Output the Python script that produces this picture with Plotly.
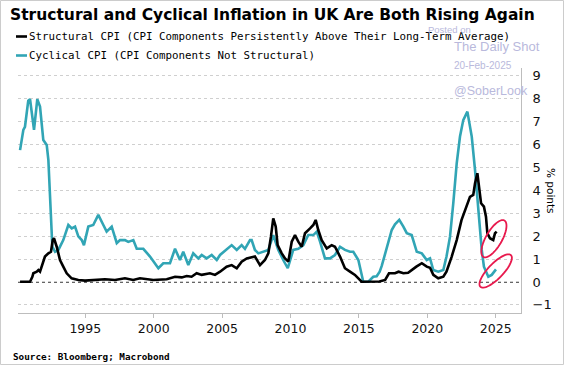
import numpy as np
import plotly.graph_objects as go

# ---------------- data ----------------
struct_x = [1990.23, 1990.96, 1991.13, 1991.20, 1991.45, 1991.57, 1991.69, 1991.81, 1992.05, 1992.30,
            1992.49, 1992.62, 1992.71, 1992.91, 1993.15, 1993.39, 1993.64, 1994.00, 1994.49, 1994.98,
            1995.71, 1996.44, 1997.17, 1997.90, 1998.50, 1999.00, 1999.97, 2000.95, 2001.56, 2002.05,
            2002.41, 2002.77, 2003.14, 2003.51, 2004.11, 2004.48, 2004.85, 2005.33, 2005.70, 2006.07,
            2006.43, 2006.80, 2007.40, 2007.77, 2008.13, 2008.38, 2008.57, 2008.74, 2008.92, 2009.06,
            2009.36, 2009.60, 2009.84, 2010.09, 2010.33, 2010.57, 2010.82, 2011.06, 2011.43, 2011.67,
            2011.84, 2012.03, 2012.28, 2012.65, 2013.01, 2013.25, 2013.62, 2013.98, 2014.35, 2014.71,
            2015.20, 2015.94, 2016.50, 2016.92, 2017.20, 2017.64, 2017.90, 2018.25, 2018.60, 2019.20,
            2019.60, 2019.96, 2020.20, 2020.44, 2020.80, 2021.17, 2021.40, 2021.78, 2022.15, 2022.50,
            2022.76, 2023.12, 2023.36, 2023.49, 2023.66, 2023.80, 2023.93, 2024.14, 2024.29, 2024.39,
            2024.58, 2024.82, 2024.95, 2025.07]
struct_y = [0.01, 0.01, 0.23, 0.38, 0.45, 0.52, 0.45, 0.67, 1.11, 1.25,
            1.32, 1.83, 1.91, 1.54, 0.96, 0.67, 0.38, 0.16, 0.09, 0.06,
            0.09, 0.12, 0.09, 0.16, 0.09, 0.16, 0.09, 0.12, 0.23, 0.20,
            0.26, 0.23, 0.38, 0.31, 0.38, 0.31, 0.45, 0.67, 0.74, 0.60,
            0.89, 1.03, 1.11, 0.74, 0.96, 1.25, 1.98, 2.78, 2.42, 1.61,
            1.25, 1.03, 0.89, 1.76, 2.05, 1.76, 1.54, 2.13, 2.34, 2.49,
            2.71, 2.27, 1.83, 1.47, 1.61, 1.54, 1.11, 0.60, 0.45, 0.31,
            0.01, 0.01, 0.02, 0.09, 0.38, 0.38, 0.45, 0.38, 0.40, 0.67,
            0.82, 0.67, 0.62, 0.31, 0.16, 0.23, 0.45, 1.10, 1.83, 2.70,
            3.14, 3.72, 3.80, 4.31, 4.75, 4.02, 3.44, 3.29, 2.85, 2.13,
            1.91, 1.83, 2.13, 2.20]

cyc_x = [1990.23, 1990.47, 1990.59, 1990.83, 1990.96, 1991.10, 1991.25, 1991.49, 1991.69, 1991.93,
         1992.18, 1992.30, 1992.42, 1992.59, 1992.79, 1993.03, 1993.39, 1993.76, 1994.01, 1994.25,
         1994.49, 1994.74, 1994.90, 1995.22, 1995.58, 1995.95, 1996.32, 1996.56, 1996.93, 1997.30,
         1997.54, 1997.90, 1998.14, 1998.51, 1998.76, 1999.24, 1999.73, 2000.34, 2000.70, 2001.19,
         2001.56, 2001.92, 2002.16, 2002.53, 2002.89, 2003.26, 2003.51, 2003.87, 2004.24, 2004.61,
         2004.85, 2005.70, 2006.07, 2006.43, 2006.67, 2007.04, 2007.16, 2007.40, 2007.65, 2008.01,
         2008.38, 2008.74, 2009.11, 2009.47, 2009.80, 2010.20, 2010.57, 2010.94, 2011.30, 2011.67,
         2011.92, 2012.16, 2012.52, 2012.89, 2013.25, 2013.62, 2013.98, 2014.35, 2014.59, 2014.96,
         2015.20, 2015.32, 2015.69, 2016.05, 2016.30, 2016.52, 2016.67, 2017.03, 2017.40, 2017.64,
         2017.95, 2018.25, 2018.50, 2018.86, 2019.23, 2019.60, 2019.96, 2020.20, 2020.44, 2020.80,
         2021.17, 2021.40, 2021.66, 2021.90, 2022.15, 2022.39, 2022.63, 2022.93, 2023.25, 2023.49,
         2023.73, 2023.98, 2024.14, 2024.46, 2024.71, 2024.88, 2025.02]
cyc_y = [5.76, 6.64, 6.78, 7.92, 7.98, 7.20, 6.64, 7.98, 7.66, 6.20,
         5.98, 5.33, 3.45, 1.54, 1.32, 1.40, 1.83, 2.49, 2.34, 2.42,
         1.99, 1.83, 1.61, 2.42, 2.49, 2.93, 2.49, 2.20, 2.42, 1.70,
         1.83, 1.83, 1.75, 1.83, 1.45, 1.45, 1.11, 0.60, 0.82, 0.82,
         1.45, 0.96, 1.32, 0.74, 1.25, 1.03, 1.18, 1.03, 1.18, 0.96,
         1.18, 1.61, 1.40, 1.61, 1.45, 1.83, 1.83, 1.40, 1.25, 1.32,
         1.40, 2.05, 1.40, 0.96, 0.60, 1.40, 1.45, 1.61, 2.05, 2.05,
         2.20, 1.76, 1.03, 1.03, 1.18, 1.54, 1.40, 1.32, 1.32, 0.96,
         0.38, 0.01, 0.01, 0.23, 0.25, 0.45, 0.70, 1.50, 2.27, 2.52,
         2.71, 2.42, 2.13, 2.05, 1.32, 1.25, 0.96, 1.03, 0.52, 0.45,
         0.52, 1.10, 1.98, 3.44, 5.18, 6.35, 7.07, 7.44, 6.35, 4.89,
         3.14, 1.40, 0.67, 0.23, 0.31, 0.45, 0.55]

year_ticks = [1995, 2000, 2005, 2010, 2015, 2020, 2025]
year_labels = [str(y) for y in year_ticks]
value_ticks = list(range(-1, 10))

series_names = ["Structural CPI (CPI Components Persistently Above Their Long-Term Average)",
                "Cyclical CPI (CPI Components Not Structural)"]

# highlighted end points (centre year, centre value)
ring_centres = [(2024.87, 1.89), (2025.0, 0.48)]

# ---------------- layout geometry ----------------
W, H = 564, 365
ML, MR, MT, MB = 18, 43, 68, 52
PW = W - ML - MR
PH = H - MT - MB
X_RANGE = [1990.08, 2026.85]
Y_RANGE = [-1.354, 9.345]

BLACK = "#000000"
TEAL = "#31a5b5"
GRID = "#cfcfcf"
AXIS = "#bdbdbd"
RED = "#e8194d"
WM = "#b9b9dc"


def px2paper(px, py):
    return (px - ML) / PW, (H - MB - py) / PH


def data2px(x, y):
    px = ML + (x - X_RANGE[0]) / (X_RANGE[1] - X_RANGE[0]) * PW
    py = MT + (Y_RANGE[1] - y) / (Y_RANGE[1] - Y_RANGE[0]) * PH
    return px, py


def ellipse_path(cx, cy, a, b, ang_deg):
    pcx, pcy = data2px(cx, cy)
    t = np.linspace(0, 2 * np.pi, 60)
    ang = np.deg2rad(ang_deg)
    ex = a * np.cos(t)
    ey = b * np.sin(t)
    px = pcx + ex * np.cos(ang) - ey * np.sin(ang)
    py = pcy - (ex * np.sin(ang) + ey * np.cos(ang))
    pts = [px2paper(u, v) for u, v in zip(px, py)]
    return "M " + " L ".join(f"{u:.5f},{v:.5f}" for u, v in pts) + " Z"


fig = go.Figure()
fig.add_trace(go.Scatter(x=cyc_x, y=cyc_y, mode="lines", name=series_names[1],
                         line=dict(color=TEAL, width=2.6), showlegend=False))
fig.add_trace(go.Scatter(x=struct_x, y=struct_y, mode="lines", name=series_names[0],
                         line=dict(color=BLACK, width=2.6), showlegend=False))

shapes = []
# dark zero line
shapes.append(dict(type="line", xref="paper", yref="y", x0=0, x1=1, y0=0, y1=0,
                   line=dict(color="#333333", width=1.3, dash="3px,3px"), layer="below"))
# highlight rings
for (cx, cy), (a, b, ang) in zip(ring_centres, [(21, 8, 60), (22, 7.5, 46)]):
    shapes.append(dict(type="path", xref="paper", yref="paper", path=ellipse_path(cx, cy, a, b, ang),
                       line=dict(color=RED, width=1.8), fillcolor="rgba(0,0,0,0)"))
# legend line markers
for i, col in enumerate([BLACK, TEAL]):
    yy = [36.5, 55.5][i]
    x0, y0 = px2paper(16, yy)
    x1, _ = px2paper(27, yy)
    shapes.append(dict(type="line", xref="paper", yref="paper", x0=x0, x1=x1, y0=y0, y1=y0,
                       line=dict(color=col, width=2.6)))
# outer frame
fx0, fy0 = px2paper(0.5, H - 0.5)
fx1, fy1 = px2paper(W - 0.5, 0.5)
shapes.append(dict(type="rect", xref="paper", yref="paper", x0=fx0, x1=fx1, y0=fy0, y1=fy1,
                   line=dict(color="#cccccc", width=1)))

annotations = []


def text(px, py, s, size, family, color="#000000", xanchor="left", angle=0):
    x, y = px2paper(px, py)
    annotations.append(dict(x=x, y=y, xref="paper", yref="paper", text=s, showarrow=False,
                            xanchor=xanchor, yanchor="middle", textangle=angle,
                            font=dict(size=size, family=family, color=color)))


text(8, 15, "<b>Structural and Cyclical Inflation in UK Are Both Rising Again</b>", 15.5, "DejaVu Sans")
text(27, 36.5, series_names[0], 10.8, "DejaVu Sans Mono")
text(27, 55.5, series_names[1], 10.8, "DejaVu Sans Mono")
text(426, 29, "Posted on", 9.5, "Liberation Sans", WM)
text(452, 46, "The Daily Shot", 13, "Liberation Sans", WM)
text(452, 65.5, "20-Feb-2025", 10, "Liberation Sans", WM)
text(452, 91, "@SoberLook", 12.5, "Liberation Sans", WM)
text(551, 191, "% points", 10.5, "DejaVu Sans", xanchor="center", angle=90)
text(11, 356, "<b>Source: Bloomberg; Macrobond</b>", 9.3, "DejaVu Sans Mono")

fig.update_layout(
    width=W, height=H,
    margin=dict(l=ML, r=MR, t=MT, b=MB, pad=0),
    paper_bgcolor="white", plot_bgcolor="white",
    shapes=shapes, annotations=annotations,
    showlegend=False,
    xaxis=dict(range=X_RANGE, tickvals=year_ticks, ticktext=year_labels,
               showgrid=False, zeroline=False, showline=True, linecolor=AXIS, linewidth=1,
               ticks="outside", ticklen=4, tickcolor=AXIS, tickwidth=1,
               tickfont=dict(family="DejaVu Sans", size=12.5, color="#111111")),
    yaxis=dict(range=Y_RANGE, side="right", tickvals=value_ticks,
               showgrid=True, gridcolor=GRID, griddash="dot", gridwidth=1,
               zeroline=False, showline=True, linecolor=AXIS, linewidth=1, ticks="",
               ticklabelstandoff=8,
               tickfont=dict(family="DejaVu Sans", size=13, color="#111111")),
)

fig.write_html("out.html", config={"displayModeBar": False},
               post_script="document.body.style.margin='0px';document.body.style.padding='0px';")
